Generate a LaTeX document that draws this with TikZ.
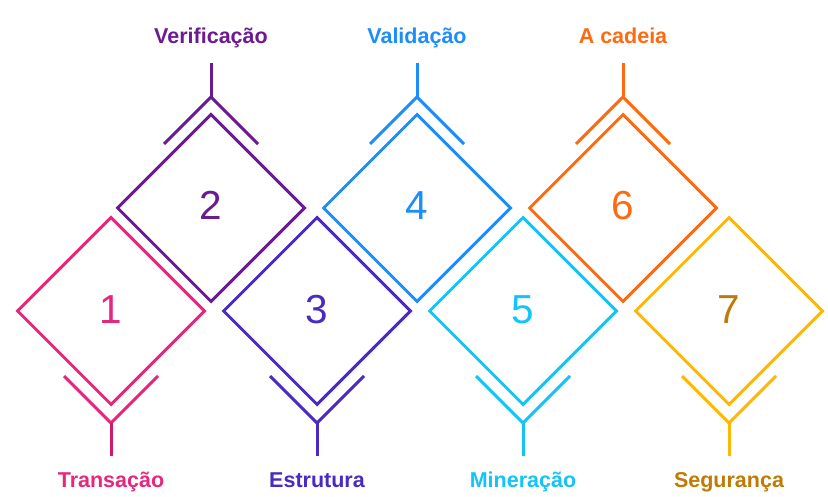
\documentclass[tikz,border=0pt]{standalone}
\usepackage{fontspec}
\setmainfont{Liberation Sans}
\usetikzlibrary{shapes.geometric}
\definecolor{cPink}{HTML}{E5287D}
\definecolor{cPinkD}{HTML}{D01B6B}
\definecolor{cPurple}{HTML}{6C1A93}
\definecolor{cIndigo}{HTML}{4A2AC2}
\definecolor{cBlue}{HTML}{1C8EFB}
\definecolor{cCyan}{HTML}{12C4F8}
\definecolor{cOrange}{HTML}{FF6A0F}
\definecolor{cGold}{HTML}{FFB703}
\definecolor{cGoldD}{HTML}{C07A06}
\tikzset{
  dia/.style={draw=#1, shape=diamond, line width=3pt, minimum width=188pt, minimum height=188pt, inner sep=0pt},
  num/.style={text=#1, font=\fontsize{40.5}{46}\selectfont, anchor=base, inner sep=0pt},
  lbl/.style={text=#1, font=\fontsize{21.5}{26}\selectfont\bfseries, anchor=base, inner sep=0pt},
  chev/.style={draw=#1, line width=3pt},
  stem/.style={draw=#1, line width=3pt}
}
\begin{document}
\begin{tikzpicture}[x=1pt,y=-1pt]
\useasboundingbox (0,0) rectangle (828,497);
% bottom row diamonds
\foreach \n/\cx/\col/\ncol/\scol/\txt in {
  1/111/cPink/cPink/cPinkD/Transação,
  3/317/cIndigo/cIndigo/cIndigo/Estrutura,
  5/523/cCyan/cCyan/cCyan/Mineração,
  7/729/cGold/cGoldD/cGold/Segurança}{
  \node[dia=\col] (d\n) at (\cx,311) {};
  \node[num=\ncol] (n\n) at (\cx,323.5) {\n};
  \coordinate (a\n) at (\cx,423);
  \draw[chev=\col] (\cx-47,376) -- (a\n) -- (\cx+47,376);
  \node[lbl=\ncol] (l\n) at (\cx,487) {\txt};
  \coordinate (s\n) at (\cx,456);
  \draw[stem=\scol] (a\n) -- (s\n);
}
% top row diamonds
\foreach \n/\cx/\col/\txt in {
  2/211/cPurple/Verificação,
  4/417/cBlue/Validação,
  6/623/cOrange/A cadeia}{
  \node[dia=\col] (d\n) at (\cx,208) {};
  \node[num=\col] (n\n) at (\cx,219.5) {\n};
  \coordinate (a\n) at (\cx,97);
  \draw[chev=\col] (\cx-47,144) -- (a\n) -- (\cx+47,144);
  \node[lbl=\col] (l\n) at (\cx,44) {\txt};
  \coordinate (s\n) at (\cx,63);
  \draw[stem=\col] (a\n) -- (s\n);
}
\end{tikzpicture}
\end{document}
